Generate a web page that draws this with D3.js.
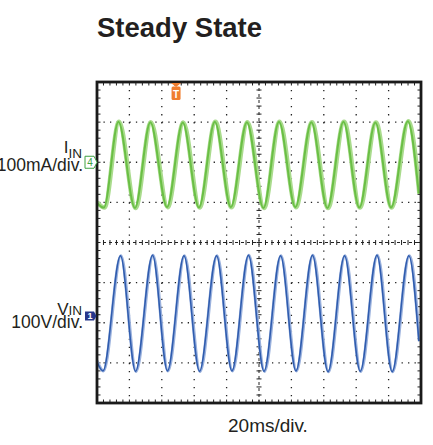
<!DOCTYPE html>
<html>
<head>
<meta charset="utf-8">
<script src="https://cdn.jsdelivr.net/npm/d3@7"></script>
<style>
  body { margin: 0; background: #fff; }
  svg { display: block; font-family: "Liberation Sans", Arial, sans-serif; }
</style>
</head>
<body>
<div id="chart"></div>
<script>
// scope setup: 10 x 8 divisions, 20 ms/div
const timeDomain = [0, 200];
const trigTime = 48.8;

// CH4 input current (mA), turning points
const iinTime  = [0, 4.6, 13.6, 23.8, 33.3, 43.6, 53.3, 63.3, 73.1, 83.0, 92.9, 103.1, 112.7, 122.8, 132.7, 142.6, 152.5, 162.3, 172.2, 181.9, 192.2, 199];
const iinValue = [-100, -113, 101, -114, 100, -112, 99, -113, 101, -112, 100, -114, 101, -112, 100, -114, 101, -113, 99, -113, 102, -78];

// CH1 input voltage (V)
const vinTime  = [0, 4.0, 14.8, 24.1, 34.6, 43.8, 54.0, 63.6, 74.1, 83.6, 93.8, 103.4, 113.6, 123.1, 133.3, 142.9, 153.1, 162.8, 173.1, 182.5, 192.8, 199];
const vinValue = [-112, -137, 150, -138, 151, -137, 150, -138, 150, -137, 151, -138, 150, -137, 151, -139, 150, -138, 151, -139, 150, -63];

// channel offsets (div) and scales (units/div)
const ch4Pos = 2, ch4PerDiv = 100;
const ch1Pos = -1.83, ch1PerDiv = 100;

const W = 433, H = 445;
const pL = 97, pR = 421, pT = 82, pB = 403;

const svg = d3.select("#chart").append("svg")
    .attr("width", W).attr("height", H)
    .attr("viewBox", `0 0 ${W} ${H}`);

const x = d3.scaleLinear().domain(timeDomain).range([pL, pR]);
const xDiv = d3.scaleLinear().domain([0, 10]).range([pL, pR]);
const yDiv = d3.scaleLinear().domain([-4, 4]).range([pB, pT]);

// title
svg.append("text")
    .attr("x", 97).attr("y", 36.5)
    .style("font-size", "27.5px").style("font-weight", "bold")
    .attr("fill", "#231f20")
    .text("Steady State");

// plot background
svg.append("rect")
    .attr("x", pL).attr("y", pT)
    .attr("width", pR - pL).attr("height", pB - pT)
    .attr("fill", "#fff");

const grid = svg.append("g");

// dotted grid
grid.selectAll(".vgrid")
    .data(d3.range(1, 10).filter(d => d !== 5))
    .join("line")
    .attr("x1", d => xDiv(d)).attr("x2", d => xDiv(d))
    .attr("y1", pT + 8).attr("y2", pB)
    .attr("stroke", "#222").attr("stroke-width", 1.3)
    .attr("stroke-dasharray", `1.3,${(pB - pT) / 40 - 1.3}`);

grid.selectAll(".hgrid")
    .data([-3, -2, -1, 1, 2, 3])
    .join("line")
    .attr("y1", d => yDiv(d)).attr("y2", d => yDiv(d))
    .attr("x1", pL + 6.48).attr("x2", pR)
    .attr("stroke", "#222").attr("stroke-width", 1.3)
    .attr("stroke-dasharray", `1.3,${(pR - pL) / 50 - 1.3}`);

// center axes
grid.append("line")
    .attr("x1", xDiv(5)).attr("x2", xDiv(5)).attr("y1", pT).attr("y2", pB)
    .attr("stroke", "#222").attr("stroke-width", 1).attr("stroke-dasharray", "3,3");
grid.append("line")
    .attr("y1", yDiv(0)).attr("y2", yDiv(0)).attr("x1", pL).attr("x2", pR)
    .attr("stroke", "#222").attr("stroke-width", 1).attr("stroke-dasharray", "3,3");

const minorX = d3.range(1, 50).map(i => i / 5);
const minorY = d3.range(-19, 20).map(i => i / 5);

grid.selectAll(".cxt").data(minorX).join("line")
    .attr("x1", d => xDiv(d)).attr("x2", d => xDiv(d))
    .attr("y1", yDiv(0) - 2.5).attr("y2", yDiv(0) + 2.5)
    .attr("stroke", "#222").attr("stroke-width", 1);
grid.selectAll(".cyt").data(minorY).join("line")
    .attr("y1", d => yDiv(d)).attr("y2", d => yDiv(d))
    .attr("x1", xDiv(5) - 2.5).attr("x2", xDiv(5) + 2.5)
    .attr("stroke", "#222").attr("stroke-width", 1);

// edge ticks
grid.selectAll(".tt").data(minorX).join("line")
    .attr("x1", d => xDiv(d)).attr("x2", d => xDiv(d))
    .attr("y1", pT).attr("y2", pT + 3.5)
    .attr("stroke", "#222").attr("stroke-width", 1);
grid.selectAll(".bt").data(minorX).join("line")
    .attr("x1", d => xDiv(d)).attr("x2", d => xDiv(d))
    .attr("y1", pB).attr("y2", pB - 3.5)
    .attr("stroke", "#222").attr("stroke-width", 1);
grid.selectAll(".lt").data(minorY).join("line")
    .attr("y1", d => yDiv(d)).attr("y2", d => yDiv(d))
    .attr("x1", pL).attr("x2", pL + 3.5)
    .attr("stroke", "#222").attr("stroke-width", 1);
grid.selectAll(".rt").data(minorY).join("line")
    .attr("y1", d => yDiv(d)).attr("y2", d => yDiv(d))
    .attr("x1", pR).attr("x2", pR - 3.5)
    .attr("stroke", "#222").attr("stroke-width", 1);

// traces
svg.append("clipPath").attr("id", "plotclip")
    .append("rect")
    .attr("x", pL).attr("y", pT)
    .attr("width", pR - pL).attr("height", pB - pT);

const traces = svg.append("g").attr("clip-path", "url(#plotclip)");

const iinLine = d3.line()
    .x((d, i) => x(iinTime[i]))
    .y(d => yDiv(ch4Pos + d / ch4PerDiv))
    .curve(d3.curveMonotoneX);
const vinLine = d3.line()
    .x((d, i) => x(vinTime[i]))
    .y(d => yDiv(ch1Pos + d / ch1PerDiv))
    .curve(d3.curveMonotoneX);

traces.append("path").attr("d", iinLine(iinValue))
    .attr("fill", "none").attr("stroke", "#a9db8c").attr("stroke-width", 4.5);
traces.append("path").attr("d", iinLine(iinValue))
    .attr("fill", "none").attr("stroke", "#6abf45").attr("stroke-width", 2)
    .attr("transform", "translate(-0.6,0)");

traces.append("path").attr("d", vinLine(vinValue))
    .attr("fill", "none").attr("stroke", "#9ab1dd").attr("stroke-width", 3.2);
traces.append("path").attr("d", vinLine(vinValue))
    .attr("fill", "none").attr("stroke", "#2f5cae").attr("stroke-width", 1.5)
    .attr("transform", "translate(-0.5,0)");

// frame
svg.append("rect")
    .attr("x", pL).attr("y", pT)
    .attr("width", pR - pL).attr("height", pB - pT)
    .attr("fill", "none").attr("stroke", "#1a1a1a").attr("stroke-width", 2.8);

// trigger marker
const tx = x(trigTime);
svg.append("path")
    .attr("d", `M${tx - 5},${pT + 1} L${tx + 5},${pT + 1} L${tx},${pT + 5} Z`)
    .attr("fill", "#f07d2e");
svg.append("rect")
    .attr("x", tx - 4.5).attr("y", pT + 4.5).attr("width", 9).attr("height", 13.5)
    .attr("rx", 1.5).attr("fill", "#f07d2e");
svg.append("text")
    .attr("x", tx).attr("y", pT + 15.5).attr("text-anchor", "middle")
    .style("font-size", "10px").style("font-weight", "bold")
    .attr("fill", "#fff").text("T");

// channel position markers
const m4 = yDiv(ch4Pos);
svg.append("path")
    .attr("d", `M85,${m4 - 6} L94,${m4 - 6} L97,${m4} L94,${m4 + 6} L85,${m4 + 6} Z`)
    .attr("fill", "#fff").attr("stroke", "#3ea142").attr("stroke-width", 1);
svg.append("text")
    .attr("x", 90).attr("y", m4 + 3.8).attr("text-anchor", "middle")
    .style("font-size", "10px").attr("fill", "#3ea142").text("4");

const m1 = yDiv(ch1Pos);
svg.append("path")
    .attr("d", `M85,${m1 - 4.5} L94,${m1 - 4.5} L96.5,${m1} L94,${m1 + 4.5} L85,${m1 + 4.5} Z`)
    .attr("fill", "#27378c");
svg.append("text")
    .attr("x", 90).attr("y", m1 + 3.5).attr("text-anchor", "middle")
    .style("font-size", "9px").style("font-weight", "bold").attr("fill", "#fff").text("1");

// channel labels
const lab = svg.append("g").attr("fill", "#231f20");
const iLab = lab.append("text").attr("x", 82).attr("y", 152.8).attr("text-anchor", "end");
iLab.append("tspan").style("font-size", "17px").text("I");
iLab.append("tspan").attr("dy", 5.5).style("font-size", "13.5px").text("IN");
lab.append("text").attr("x", 83).attr("y", 171).attr("text-anchor", "end")
    .style("font-size", "17.5px").text("100mA/div.");

const vLab = lab.append("text").attr("x", 82).attr("y", 314.5).attr("text-anchor", "end");
vLab.append("tspan").style("font-size", "17px").text("V");
vLab.append("tspan").style("font-size", "13.5px").text("IN");
lab.append("text").attr("x", 83).attr("y", 328).attr("text-anchor", "end")
    .style("font-size", "17.5px").text("100V/div.");

// time base
lab.append("text").attr("x", 228).attr("y", 431.7)
    .style("font-size", "19px").text("20ms/div.");
</script>
</body>
</html>
